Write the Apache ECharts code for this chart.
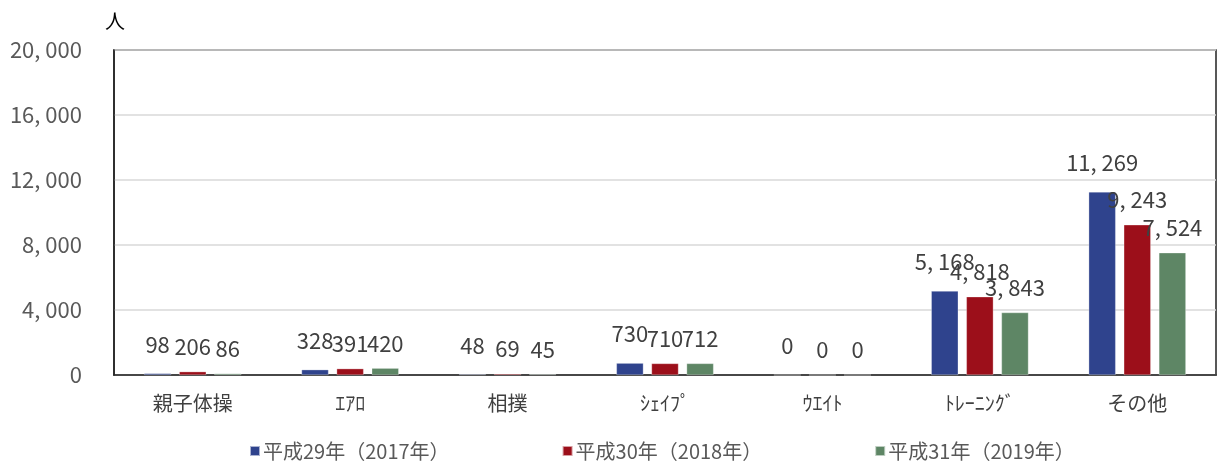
<!DOCTYPE html>
<html><head><meta charset="utf-8">
<script src="https://cdn.jsdelivr.net/npm/echarts@6/dist/echarts.min.js"></script>
<style>html,body{margin:0;padding:0;background:#fff}#c{width:1220px;height:468px}</style>
</head><body><div id="c"></div>
<script>
const categories = ['親子体操', 'ｴｱﾛ', '相撲', 'ｼｪｲﾌﾟ', 'ｳｴｲﾄ', 'ﾄﾚｰﾆﾝｸﾞ', 'その他'];
const seriesNames = ['平成29年（2017年）', '平成30年（2018年）', '平成31年（2019年）'];
const h29 = [98, 328, 48, 730, 0, 5168, 11269];
const h30 = [206, 391, 69, 710, 0, 4818, 9243];
const h31 = [86, 420, 45, 712, 0, 3843, 7524];
const colors = ['#2F438D', '#9C0F1A', '#5E8665'];

const FONT = "'Noto Sans CJK JP', sans-serif";
const fmt = v => v.toLocaleString('en-US').replace(/,/g, ', ');

const chart = echarts.init(document.getElementById('c'), null, {renderer: 'canvas'});
const mk = (name, data, color, dist) => ({
  name, type: 'bar', data,
  barWidth: 27, barGap: '30%',
  itemStyle: {color, borderColor: 'rgba(255,255,255,0.6)', borderWidth: 0.5},
  label: {show: true, position: 'top', distance: dist,
          formatter: p => fmt(p.value),
          color: '#404040', fontSize: 22, fontFamily: FONT}
});
chart.setOption({
  animation: false,
  grid: {left: 114, right: 4, top: 50, bottom: 93, show: true, borderColor: '#222', borderWidth: 1.5, backgroundColor: 'transparent'},
  legend: {
    bottom: 2, left: 244, itemWidth: 10, itemHeight: 10, itemGap: 112, icon: 'rect',
    textStyle: {color: '#595959', fontSize: 20, fontFamily: FONT, padding: [0, 0, 0, -2]},
    data: seriesNames
  },
  xAxis: {
    type: 'category', data: categories,
    axisLine: {lineStyle: {color: '#222', width: 1.5}}, axisTick: {show: false},
    axisLabel: {color: '#404040', fontSize: 20, fontFamily: FONT, margin: 18}
  },
  yAxis: {
    type: 'value', min: 0, max: 20000, interval: 4000,
    name: '人', nameLocation: 'end', nameGap: 19,
    nameTextStyle: {color: '#000', fontSize: 20, fontFamily: FONT, align: 'center', padding: [0, 0, 0, 2]},
    axisLine: {show: true, lineStyle: {color: '#222', width: 1.5}}, axisTick: {show: false},
    axisLabel: {color: '#595959', fontSize: 22, fontFamily: FONT, margin: 32, formatter: v => fmt(v)},
    splitLine: {lineStyle: {color: '#d9d9d9', width: 1.5}}
  },
  series: [mk(seriesNames[0], h29, colors[0], 18), mk(seriesNames[1], h30, colors[1], 14), mk(seriesNames[2], h31, colors[2], 14)]
});
</script></body></html>
